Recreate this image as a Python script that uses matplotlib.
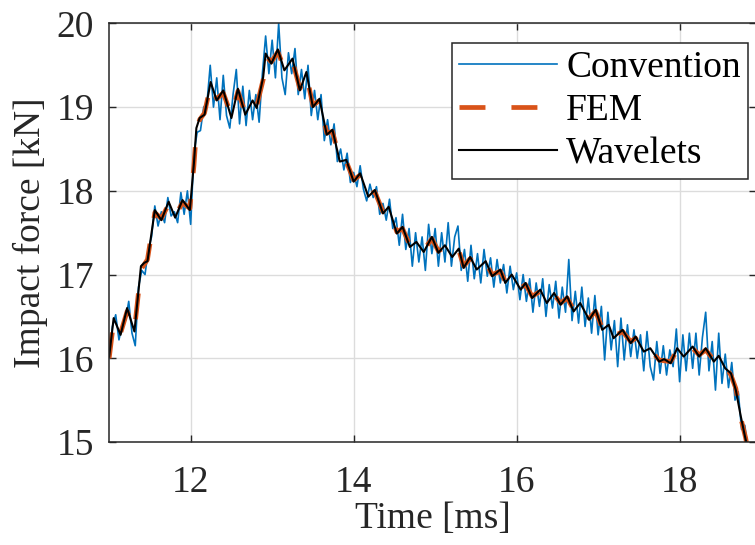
import numpy as np
import matplotlib
matplotlib.use('Agg')
import matplotlib.pyplot as plt

plt.rcParams['font.family'] = ['Liberation Serif', 'DejaVu Serif']

# Modelos suavizados (tiempos en ms)
t_model = [11.00, 11.055, 11.14, 11.22, 11.31, 11.39, 11.43, 11.47, 11.56, 11.64,
           11.73, 11.81, 11.90, 11.99, 12.04, 12.07, 12.11, 12.17, 12.245, 12.32,
           12.40, 12.50, 12.58, 12.67, 12.76, 12.81, 12.89, 12.92, 12.99, 13.07,
           13.15, 13.25, 13.34, 13.42, 13.50, 13.58, 13.67, 13.74, 13.83, 13.91,
           14.00, 14.08, 14.18, 14.26, 14.36, 14.43, 14.53, 14.60, 14.69, 14.77,
           14.86, 14.96, 15.04, 15.12, 15.21, 15.29, 15.35, 15.43, 15.51, 15.62,
           15.70, 15.80, 15.86, 15.94, 16.05, 16.11, 16.19, 16.29, 16.37, 16.46,
           16.54, 16.62, 16.70, 16.78, 16.89, 16.97, 17.05, 17.13, 17.19, 17.30,
           17.40, 17.46, 17.56, 17.64, 17.75, 17.81, 17.89, 17.97, 18.05, 18.16,
           18.24, 18.32, 18.42, 18.48, 18.56, 18.63, 18.69, 18.75, 18.81, 18.84]

wavelets = [16.02, 16.48, 16.28, 16.60, 16.32, 17.10, 17.14, 17.16, 17.77, 17.65,
            17.87, 17.68, 17.89, 17.77, 18.33, 18.75, 18.87, 18.91, 19.30, 19.08,
            19.20, 18.87, 19.22, 18.91, 19.08, 18.99, 19.36, 19.64, 19.52, 19.69,
            19.44, 19.58, 19.20, 19.42, 19.00, 19.10, 18.67, 18.73, 18.35, 18.37,
            18.11, 18.21, 17.93, 18.01, 17.73, 17.81, 17.49, 17.57, 17.33, 17.39,
            17.27, 17.45, 17.26, 17.35, 17.21, 17.31, 17.08, 17.21, 17.06, 17.16,
            16.98, 17.06, 16.90, 17.00, 16.82, 16.90, 16.72, 16.82, 16.66, 16.78,
            16.64, 16.74, 16.56, 16.66, 16.46, 16.58, 16.34, 16.40, 16.24, 16.34,
            16.18, 16.26, 16.08, 16.12, 15.96, 15.99, 15.94, 16.12, 16.02, 16.14,
            16.02, 16.12, 15.96, 16.03, 15.88, 15.82, 15.62, 15.31, 15.03, 14.92]

fem = [16.00, 16.44, 16.30, 16.56, 16.34, 17.06, 17.12, 17.18, 17.74, 17.67,
       17.84, 17.70, 17.86, 17.79, 18.30, 18.72, 18.85, 18.93, 19.27, 19.10,
       19.17, 18.90, 19.19, 18.93, 19.05, 19.01, 19.33, 19.61, 19.54, 19.66,
       19.46, 19.55, 19.22, 19.39, 19.02, 19.08, 18.69, 18.71, 18.37, 18.35,
       18.13, 18.19, 17.95, 17.99, 17.75, 17.79, 17.51, 17.55, 17.35, 17.37,
       17.29, 17.43, 17.28, 17.33, 17.23, 17.29, 17.10, 17.19, 17.08, 17.14,
       17.00, 17.04, 16.92, 16.98, 16.84, 16.88, 16.74, 16.80, 16.68, 16.76,
       16.66, 16.72, 16.58, 16.64, 16.48, 16.56, 16.36, 16.38, 16.26, 16.32,
       16.20, 16.24, 16.10, 16.10, 15.98, 15.97, 15.96, 16.10, 16.04, 16.12,
       16.04, 16.10, 15.98, 16.01, 15.90, 15.80, 15.64, 15.29, 15.05, 14.90]

# Medicion convencional, muestreada cada 0.04 ms desde 11 ms
convention = [16.00, 16.38, 16.52, 16.22, 16.40,   # 11.0
              16.45, 16.68, 16.30, 16.15, 16.85,   # 11.2
              17.05, 17.00, 17.30, 17.45, 17.82,   # 11.4
              17.58, 17.75, 17.62, 17.92, 17.70,   # 11.6
              17.75, 17.62, 17.98, 17.72, 18.00,   # 11.8
              17.60, 18.45, 18.70, 18.72, 19.00,   # 12.0
              19.05, 19.50, 19.00, 19.35, 18.85,   # 12.2
              19.38, 18.90, 18.75, 19.15, 19.45,   # 12.4
              18.80, 19.25, 18.78, 19.20, 18.85,   # 12.6
              19.15, 18.82, 19.40, 19.85, 19.40,   # 12.8
              19.80, 19.35, 20.00, 19.35, 19.15,   # 13.0
              19.65, 19.40, 19.70, 19.15, 19.45,   # 13.2
              19.10, 19.50, 18.90, 19.20, 18.85,   # 13.4
              19.15, 18.60, 18.85, 18.55, 18.80,   # 13.6
              18.35, 18.50, 18.25, 18.45, 18.10,   # 13.8
              18.22, 18.05, 18.30, 18.02, 17.88,   # 14.0
              18.08, 17.92, 18.05, 17.72, 17.85,   # 14.2
              17.65, 17.90, 17.55, 17.68, 17.35,   # 14.4
              17.72, 17.30, 17.55, 17.10, 17.50,   # 14.6
              17.15, 17.45, 17.05, 17.60, 17.25,   # 14.8
              17.55, 17.10, 17.50, 17.15, 17.62,   # 15.0
              17.10, 17.45, 17.58, 17.05, 17.30,   # 15.2
              16.92, 17.35, 16.95, 17.25, 16.90,   # 15.4
              17.30, 16.98, 17.20, 16.85, 17.18,   # 15.6
              16.90, 17.12, 16.78, 17.10, 16.82,   # 15.8
              17.02, 16.70, 17.00, 16.68, 16.95,   # 16.0
              16.55, 16.90, 16.62, 16.95, 16.50,   # 16.2
              16.88, 16.60, 16.92, 16.48, 16.85,   # 16.4
              16.55, 17.18, 16.45, 16.80, 16.42,   # 16.6
              16.85, 16.38, 16.72, 16.30, 16.75,   # 16.8
              16.28, 16.62, 15.98, 16.55, 16.10,   # 17.0
              16.45, 15.90, 16.48, 15.98, 16.40,   # 17.2
              16.02, 16.34, 16.00, 16.28, 15.85,   # 17.4
              16.32, 15.90, 15.74, 16.20, 15.82,   # 17.6
              16.15, 15.80, 16.10, 15.90, 16.35,   # 17.8
              15.72, 16.28, 15.85, 16.30, 15.88,   # 18.0
              16.30, 15.80, 16.25, 16.55, 15.85,   # 18.2
              16.20, 15.62, 16.30, 15.70, 16.05,   # 18.4
              15.65, 15.95, 15.50, 15.60, 15.15,   # 18.6
              15.20, 14.90]                        # 18.8
t_conv = 11.0 + 0.04 * np.arange(len(convention))

fig = plt.figure(figsize=(7.55, 5.45), dpi=100)
ax = fig.add_axes([0.1446, 0.189, 0.857, 0.768])

ax.plot(t_conv, convention, color='#0072BD', lw=1.2, label='Convention')
ax.plot(t_model, fem, color='#D95319', lw=3.4, dashes=(5.5, 5.5), label='FEM')
ax.plot(t_model, wavelets, color='k', lw=1.5, label='Wavelets')

ax.set_xlim(11, 18.94)
ax.set_ylim(15, 20)
ax.set_xticks([12, 14, 16, 18])
ax.set_yticks([15, 16, 17, 18, 19, 20])
ax.grid(True, color='#dcdcdc', lw=1.0)
ax.set_axisbelow(True)
ax.tick_params(direction='in', top=True, right=True, length=5, width=1.0,
               color='#262626', labelsize=27, labelcolor='#262626')
ax.tick_params(axis='x', pad=17)
ax.tick_params(axis='y', pad=11)
for s in ax.spines.values():
    s.set_color('#262626')
    s.set_linewidth(1.1)

ax.set_xlabel('Time [ms]', fontsize=27, color='#262626', labelpad=1)
ax.set_ylabel('Impact force [kN]', fontsize=27, color='#262626', labelpad=6)

leg = ax.legend(loc='upper right', bbox_to_anchor=(0.9876, 0.953), borderaxespad=0,
                fontsize=27, fancybox=False, framealpha=1, edgecolor='#262626',
                handlelength=2.6, handletextpad=0.25, labelspacing=0.23,
                borderpad=0.2)
leg.get_frame().set_linewidth(1.1)
for txt in leg.get_texts():
    txt.set_color('black')

fig.savefig('out.png', dpi=100)
